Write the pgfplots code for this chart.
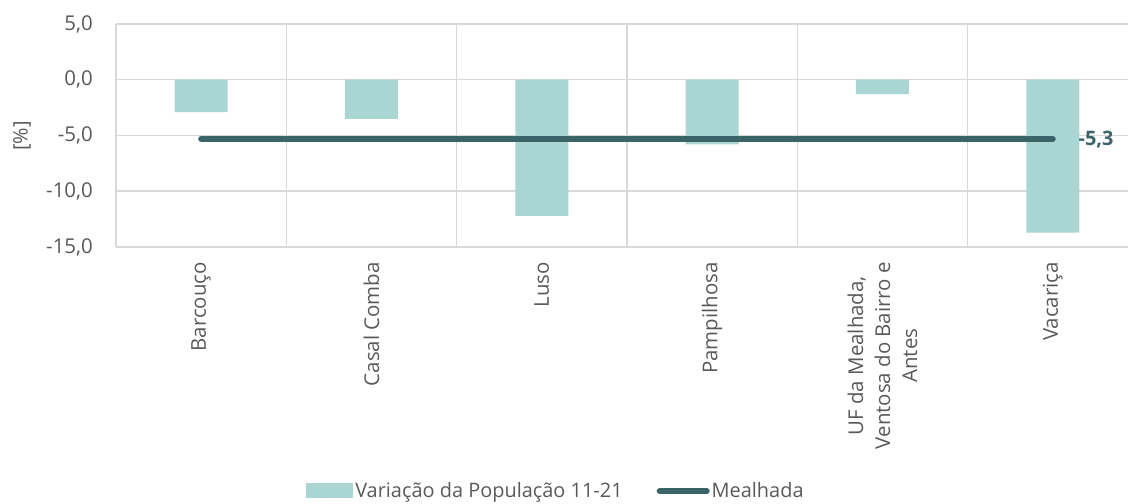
\documentclass[border=0pt]{standalone}
\usepackage{pgfplots}
\pgfplotsset{compat=1.18}
\usepackage{fontspec}
\setmainfont{Open Sans}

\definecolor{barfill}{RGB}{169,214,211}
\definecolor{linecol}{RGB}{58,100,104}
\definecolor{gridcol}{RGB}{217,217,217}
\definecolor{txt}{RGB}{89,89,89}

\begin{document}
\begin{tikzpicture}
\fontsize{20}{26}\selectfont
\begin{axis}[
    scale only axis,
    width=1022bp, height=223bp,
    at={(116bp,257bp)}, anchor=south west,
    xmin=-0.5, xmax=5.5,
    ymin=-15, ymax=5,
    xtick={0,1,2,3,4,5},
    xticklabels={Barcouço, Casal Comba, Luso, Pampilhosa, {UF da Mealhada,\\Ventosa do Bairro e\\Antes}, Vacariça},
    minor xtick={-0.5,0.5,1.5,2.5,3.5,4.5,5.5},
    ytick={-15,-10,-5,0,5},
    yticklabels={{-15,0},{-10,0},{-5,0},{0,0},{5,0}},
    ymajorgrids, xminorgrids,
    grid style={gridcol, line width=1.5bp},
    minor grid style={gridcol, line width=1.5bp},
    axis line style={draw=none},
    major tick length=0pt, minor tick length=0pt,
    tick label style={txt, font=\fontsize{20.5}{27}\selectfont},
    yticklabel style={inner sep=0pt, xshift=-23bp},
    xticklabel style={yshift=-15bp, rotate=90, anchor=east, align=center, inner sep=0pt},
    clip=false,
    legend columns=2,
    legend style={draw=none, fill=none, at={(axis description cs:0.4305,-1.094)}, anchor=center,
        font=\fontsize{20}{24}\selectfont, text=txt, inner sep=0pt,
        /tikz/every even column/.append style={column sep=32bp},
        nodes={inner sep=2bp}},
]
\addplot[ybar, bar width=53bp, bar shift=0pt, fill=barfill, draw=none,
    legend image code/.code={\fill[barfill] (0bp,-7.5bp) rectangle (47bp,7.5bp);}]
    coordinates {(0,-2.9) (1,-3.5) (2,-12.2) (3,-5.8) (4,-1.3) (5,-13.7)};
\addlegendentry{Variação da População 11-21}
\addplot[sharp plot, linecol, line width=6bp, line cap=round, mark=none,
    legend image code/.code={\draw[linecol, line width=6bp, line cap=round] (3bp,0bp) -- (50bp,0bp);}]
    coordinates {(0,-5.3) (1,-5.3) (2,-5.3) (3,-5.3) (4,-5.3) (5,-5.3)};
\addlegendentry{Mealhada}
\addplot[draw=none, mark=none, forget plot,
    nodes near coords={\textbf{-5,3}},
    every node near coord/.style={anchor=west, text=linecol, xshift=19bp, yshift=-1bp,
        font=\fontsize{20}{24}\selectfont}]
    coordinates {(5,-5.3)};
\end{axis}
\node[rotate=90, text=txt, font=\fontsize{20}{24}\selectfont] at (22bp,368bp) {[\%]};
\pgfresetboundingbox
\path[use as bounding box] (0,0) rectangle (1128bp,504bp);
\end{tikzpicture}
\end{document}
